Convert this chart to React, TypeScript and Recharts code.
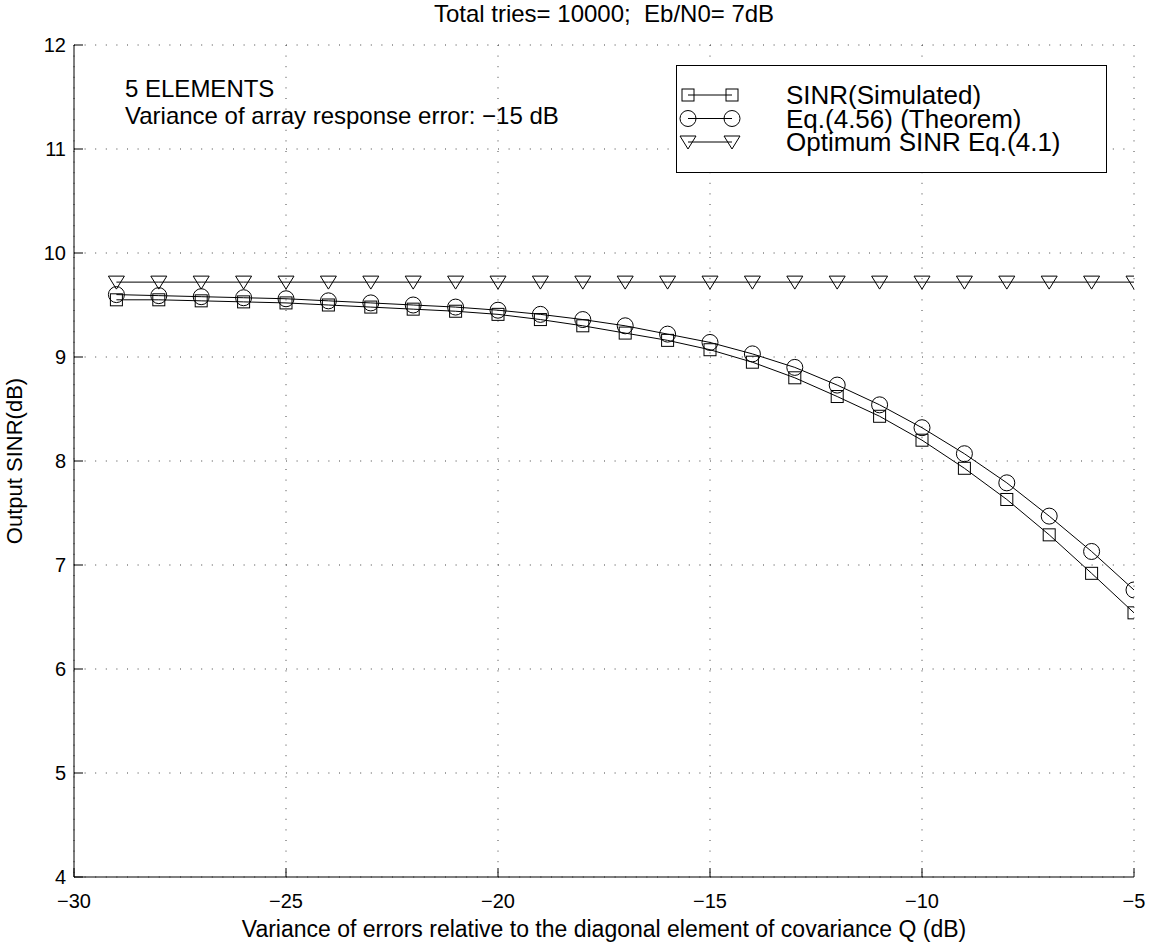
import { CartesianGrid, Legend, Line, LineChart, XAxis, YAxis } from "recharts"

const FONT = '"Liberation Sans", Arial, Helvetica, sans-serif'

// x positions (dB)
const xValues = [
  -29, -28, -27, -26, -25, -24, -23, -22, -21, -20, -19, -18, -17, -16, -15,
  -14, -13, -12, -11, -10, -9, -8, -7, -6, -5,
]
const simulated = [
  9.55, 9.55, 9.54, 9.53, 9.52, 9.5, 9.48, 9.46, 9.44, 9.41, 9.36, 9.3, 9.23,
  9.16, 9.07, 8.95, 8.8, 8.62, 8.43, 8.2, 7.93, 7.63, 7.29, 6.92, 6.54,
]
const theorem = [
  9.6, 9.59, 9.58, 9.57, 9.56, 9.54, 9.52, 9.5, 9.48, 9.45, 9.41, 9.36, 9.3,
  9.22, 9.14, 9.03, 8.9, 8.73, 8.54, 8.32, 8.07, 7.79, 7.47, 7.13, 6.76,
]
const optimum = [
  9.72, 9.72, 9.72, 9.72, 9.72, 9.72, 9.72, 9.72, 9.72, 9.72, 9.72, 9.72, 9.72,
  9.72, 9.72, 9.72, 9.72, 9.72, 9.72, 9.72, 9.72, 9.72, 9.72, 9.72, 9.72,
]
const xTicks = [-30, -25, -20, -15, -10, -5]
const yTicks = [4, 5, 6, 7, 8, 9, 10, 11, 12]
const legendLabels = ["SINR(Simulated)", "Eq.(4.56) (Theorem)", "Optimum SINR Eq.(4.1)"]

const data = xValues.map((x, i) => ({
  x,
  sim: simulated[i],
  thm: theorem[i],
  opt: optimum[i],
}))

const fmt = (v: number) => (v < 0 ? "\u2212" + Math.abs(v) : String(v))

// markers
function Square({ cx, cy }: { cx: number; cy: number }) {
  return <rect x={cx - 6} y={cy - 6} width={12} height={12} fill="none" stroke="#000" />
}
function Circle({ cx, cy }: { cx: number; cy: number }) {
  return <circle cx={cx} cy={cy} r={8} fill="none" stroke="#000" />
}
function Triangle({ cx, cy }: { cx: number; cy: number }) {
  return (
    <polygon
      points={`${cx - 8},${cy - 6} ${cx + 8},${cy - 6} ${cx},${cy + 7}`}
      fill="none"
      stroke="#000"
    />
  )
}
const markers = [Square, Circle, Triangle]

const dotFor = (M: typeof Square, prefix: string) => (p: any) =>
  <M key={`${prefix}-${p.index}`} cx={p.cx} cy={p.cy} />

// ticks drawn inward, labels outside (matlab style)
function BottomTick({ x, y, payload }: any) {
  return (
    <g>
      <line x1={x} y1={y} x2={x} y2={y - 9} stroke="#000" />
      <text x={x} y={y + 15} dy="0.8em" textAnchor="middle" fontSize={20} fontFamily={FONT}>
        {fmt(payload.value)}
      </text>
    </g>
  )
}
function LeftTick({ x, y, payload }: any) {
  return (
    <g>
      <line x1={x} y1={y} x2={x + 9} y2={y} stroke="#000" />
      <text x={x - 8} y={y} dy="0.36em" textAnchor="end" fontSize={20} fontFamily={FONT}>
        {fmt(payload.value)}
      </text>
    </g>
  )
}
function TopTick({ x, y }: any) {
  return <line x1={x} y1={y} x2={x} y2={y + 9} stroke="#000" />
}
function RightTick({ x, y }: any) {
  return <line x1={x} y1={y} x2={x - 9} y2={y} stroke="#000" />
}

function LegendBox() {
  const rows = [30, 53.5, 77]
  return (
    <svg width={431} height={108} style={{ display: "block" }}>
      <rect x={0.5} y={0.5} width={430} height={107} fill="#fff" stroke="#000" />
      {legendLabels.map((label, i) => {
        const M = markers[i]
        const y = rows[i]
        return (
          <g key={label}>
            <line x1={12} y1={y} x2={56} y2={y} stroke="#000" />
            <M cx={12} cy={y} />
            <M cx={56} cy={y} />
            <text x={110} y={y} dy="0.36em" fontSize={26} fontFamily={FONT}>
              {label}
            </text>
          </g>
        )
      })}
    </svg>
  )
}

export default function App() {
  return (
    <div style={{ position: "absolute", left: 0, top: 0, width: 1150, height: 944, background: "#fff" }}>
      <div
        style={{
          position: "absolute",
          left: 74,
          width: 1060,
          top: 0,
          textAlign: "center",
          fontFamily: FONT,
          fontSize: 24,
        }}
      >
        Total tries= 10000;&nbsp; Eb/N0= 7dB
      </div>
      <div
        style={{
          position: "absolute",
          left: 125,
          top: 75,
          fontFamily: FONT,
          fontSize: 24,
          lineHeight: "27px",
          zIndex: 2,
        }}
      >
        <div>5 ELEMENTS</div>
        <div>Variance of array response error: {"\u221215"} dB</div>
      </div>
      <LineChart
        width={1150}
        height={944}
        data={data}
        margin={{ top: 45, right: 16, bottom: 0, left: 0 }}
      >
        <CartesianGrid stroke="#444" strokeDasharray="1 9.6" />
        <XAxis
          dataKey="x"
          type="number"
          domain={[-30, -5]}
          ticks={xTicks}
          allowDataOverflow
          height={67}
          stroke="#000"
          tickLine={false}
          tickSize={0}
          tickMargin={0}
          tick={<BottomTick />}
          label={{
            value: "Variance of errors relative to the diagonal element of covariance Q (dB)",
            position: "insideBottom",
            offset: 7,
            fontSize: 23,
            fontFamily: FONT,
            fill: "#000",
          }}
        />
        <XAxis
          xAxisId="top"
          orientation="top"
          type="number"
          domain={[-30, -5]}
          ticks={xTicks}
          allowDataOverflow
          height={0}
          stroke="#000"
          tickLine={false}
          tickSize={0}
          tickMargin={0}
          tick={<TopTick />}
        />
        <YAxis
          type="number"
          domain={[4, 12]}
          ticks={yTicks}
          allowDataOverflow
          width={74}
          stroke="#000"
          tickLine={false}
          tickSize={0}
          tickMargin={0}
          tick={<LeftTick />}
          label={{
            value: "Output SINR(dB)",
            angle: -90,
            position: "insideLeft",
            offset: 14,
            fontSize: 22,
            fontFamily: FONT,
            fill: "#000",
            style: { textAnchor: "middle" },
          }}
        />
        <YAxis
          yAxisId="right"
          orientation="right"
          type="number"
          domain={[4, 12]}
          ticks={yTicks}
          allowDataOverflow
          width={0}
          stroke="#000"
          tickLine={false}
          tickSize={0}
          tickMargin={0}
          tick={<RightTick />}
        />
        <Line
          dataKey="sim"
          type="linear"
          stroke="#000"
          strokeWidth={1}
          dot={dotFor(Square, "s")}
          activeDot={false}
          isAnimationActive={false}
        />
        <Line
          dataKey="thm"
          type="linear"
          stroke="#000"
          strokeWidth={1}
          dot={dotFor(Circle, "c")}
          activeDot={false}
          isAnimationActive={false}
        />
        <Line
          dataKey="opt"
          type="linear"
          stroke="#000"
          strokeWidth={1}
          dot={dotFor(Triangle, "t")}
          activeDot={false}
          isAnimationActive={false}
        />
        <Legend
          layout="vertical"
          align="center"
          verticalAlign="middle"
          content={<LegendBox />}
          wrapperStyle={{ position: "absolute", left: 676, top: 65, width: 431, height: 108 }}
        />
      </LineChart>
    </div>
  )
}
